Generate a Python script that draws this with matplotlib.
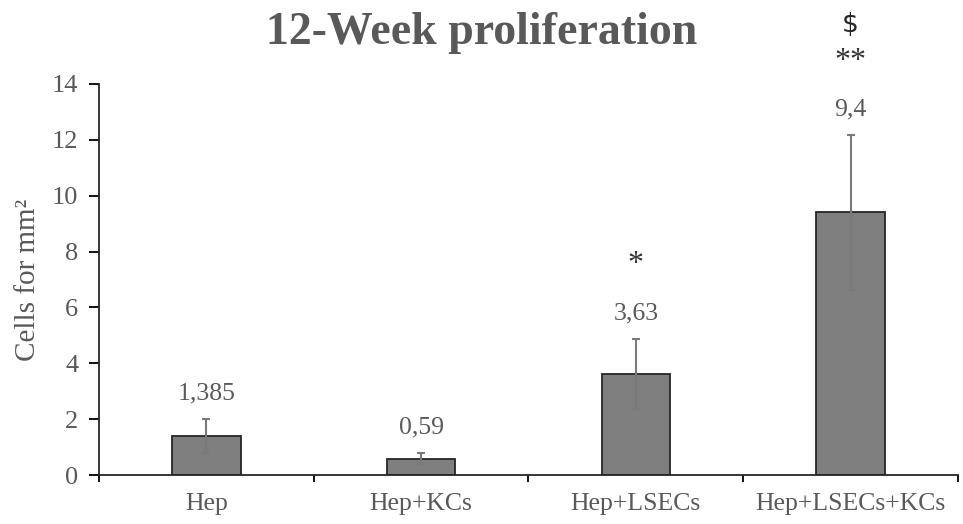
import matplotlib.pyplot as plt
import numpy as np

groups = ["Hep", "Hep+KCs", "Hep+LSECs", "Hep+LSECs+KCs"]
means = [1.385, 0.59, 3.63, 9.4]
errors = [0.61, 0.2, 1.25, 2.77]
value_labels = ["1,385", "0,59", "3,63", "9,4"]
signif = ["", "", "*", "**"]

plt.rcParams["font.family"] = ["Liberation Serif", "DejaVu Serif"]
text_gray = "#595959"

fig = plt.figure(figsize=(9.63, 5.24), dpi=100)
ax = fig.add_axes([0.1028, 0.0935, 0.892, 0.7462])

x = np.arange(len(groups))
ax.bar(x, means, width=0.32, color="#7f7f7f", edgecolor="#262626", linewidth=1.3, zorder=2)
ax.errorbar(x, means, yerr=errors, linestyle="none", ecolor="#7a7a7a", elinewidth=1.5,
            capsize=3, capthick=1.5, zorder=3)

# value labels above each error bar
for xi, m, e, lab in zip(x, means, errors, value_labels):
    ax.text(xi, m + e + 0.92, lab, ha="center", va="center", fontsize=18.5, color=text_gray)

# significance marks
for xi, m, e, s in zip(x, means, errors, signif):
    if s:
        ax.text(xi, m + e + 2.65, s, ha="center", va="center",
                fontsize=23, color="#333333", clip_on=False)
ax.text(x[3], 16.1, "$", ha="center", va="center", fontsize=19, color="#262626",
        family="DejaVu Sans", clip_on=False)

ax.set_xlim(-0.5, len(groups) - 0.5)
ax.set_ylim(0, 14)
ax.set_yticks(np.arange(0, 15, 2))
ax.set_xticks(x)
ax.set_xticklabels(groups)
ax.set_xticks(np.arange(-0.5, len(groups)), minor=True)
ax.tick_params(axis="x", which="major", length=0, pad=13, labelsize=18.5, labelcolor=text_gray)
ax.tick_params(axis="x", which="minor", length=5, width=1.3, direction="out")
ax.tick_params(axis="y", length=7, width=1.3, pad=8, labelsize=19, labelcolor=text_gray)

for side in ["top", "right"]:
    ax.spines[side].set_visible(False)
for side in ["left", "bottom"]:
    ax.spines[side].set_linewidth(1.3)
    ax.spines[side].set_color("#262626")

ax.set_ylabel("Cells for mm²", fontsize=21, color=text_gray, labelpad=8)
fig.text(0.5, 0.937, "12-Week proliferation", ha="center", va="center", fontsize=33,
         fontweight="bold", color=text_gray)

fig.savefig("out.png", dpi=100)
